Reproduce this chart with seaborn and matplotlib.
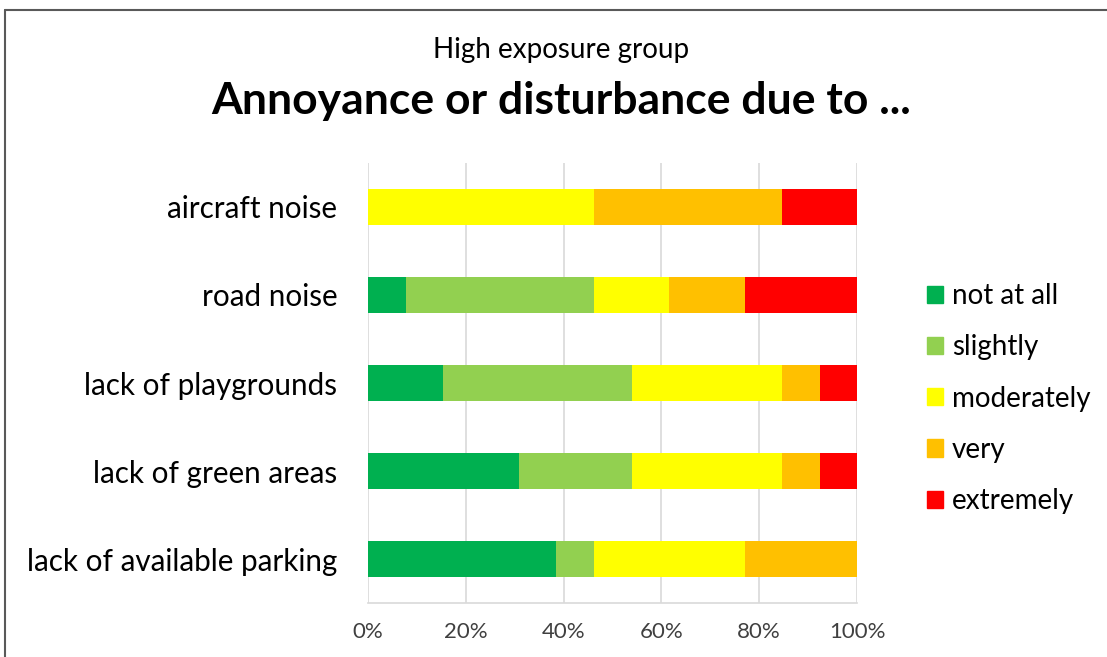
import matplotlib
matplotlib.use("Agg")
import matplotlib.pyplot as plt
import matplotlib.patches as mpatches
import matplotlib.lines as mlines
import seaborn as sns
import pandas as pd
import numpy as np

categories = ["aircraft noise", "road noise", "lack of playgrounds",
              "lack of green areas", "lack of available parking"]
levels = ["not at all", "slightly", "moderately", "very", "extremely"]
not_at_all = [0.0, 7.7, 15.4, 30.8, 38.5]
slightly = [0.0, 38.5, 38.5, 23.1, 7.7]
moderately = [46.2, 15.4, 30.8, 30.8, 30.8]
very = [38.5, 15.4, 7.7, 7.7, 23.0]
extremely = [15.3, 23.0, 7.6, 7.6, 0.0]
colors = ["#00B050", "#92D050", "#FFFF00", "#FFC000", "#FF0000"]
xticks = [0, 20, 40, 60, 80, 100]
xticklabels = ["0%", "20%", "40%", "60%", "80%", "100%"]

sns.set_theme(style="white")
plt.rcParams["font.family"] = ["Lato", "DejaVu Sans"]

series = [not_at_all, slightly, moderately, very, extremely]
cum = np.zeros(len(categories))
cums = []
for s in series:
    cum = cum + np.array(s)
    cums.append(cum.copy())

fig = plt.figure(figsize=(11.07, 6.57), dpi=100)
ax = fig.add_axes([368/1107, 1-603/657, (857-368)/1107, (603-163)/657])

handles = {}
for i in range(len(levels) - 1, -1, -1):
    d = pd.DataFrame({"category": categories, "value": cums[i]})
    sns.barplot(data=d, y="category", x="value", orient="h", color=colors[i],
                width=0.4, ax=ax, saturation=1, linewidth=0, zorder=3)
    handles[levels[i]] = mpatches.Patch(color=colors[i], label=levels[i])

ax.set_xlim(0, 100)
ax.set_ylim(4.5, -0.5)
ax.set_xticks(xticks)
ax.set_xticklabels(xticklabels, fontsize=16, color="#404040")
ax.tick_params(axis="y", labelsize=21.3, colors="#000000", length=0, pad=22)
ax.tick_params(axis="x", length=0, pad=14)
ax.set_xlabel("")
ax.set_ylabel("")
for x in xticks:
    ax.axvline(x, color="#D9D9D9", linewidth=1.2, zorder=0)
for sp in ["top", "right", "left"]:
    ax.spines[sp].set_visible(False)
ax.spines["bottom"].set_color("#D9D9D9")
ax.spines["bottom"].set_linewidth(1.2)
ax.grid(False)

leg = fig.legend(handles=[handles[l] for l in levels], loc="upper left",
                 bbox_to_anchor=(902/1107, 1-258/657), frameon=False,
                 fontsize=20, labelspacing=0.91, handlelength=0.58,
                 handleheight=0.58, handletextpad=0.32, labelcolor="#000000")

fig.text(0.507, 1-50/657, "High exposure group", ha="center", va="center",
         fontsize=20, color="#000000")
fig.text(0.507, 1-101/657, "Annoyance or disturbance due to ...", ha="center",
         va="center", fontsize=32, fontweight="bold", color="#000000")

# chart border
fig.add_artist(mlines.Line2D([5/1107, 5/1107], [0, 1-10/657], transform=fig.transFigure,
                             color="#595959", linewidth=1.5))
fig.add_artist(mlines.Line2D([5/1107, 1], [1-10/657, 1-10/657], transform=fig.transFigure,
                             color="#595959", linewidth=1.5))

fig.savefig("out.png", dpi=100, facecolor="white")
